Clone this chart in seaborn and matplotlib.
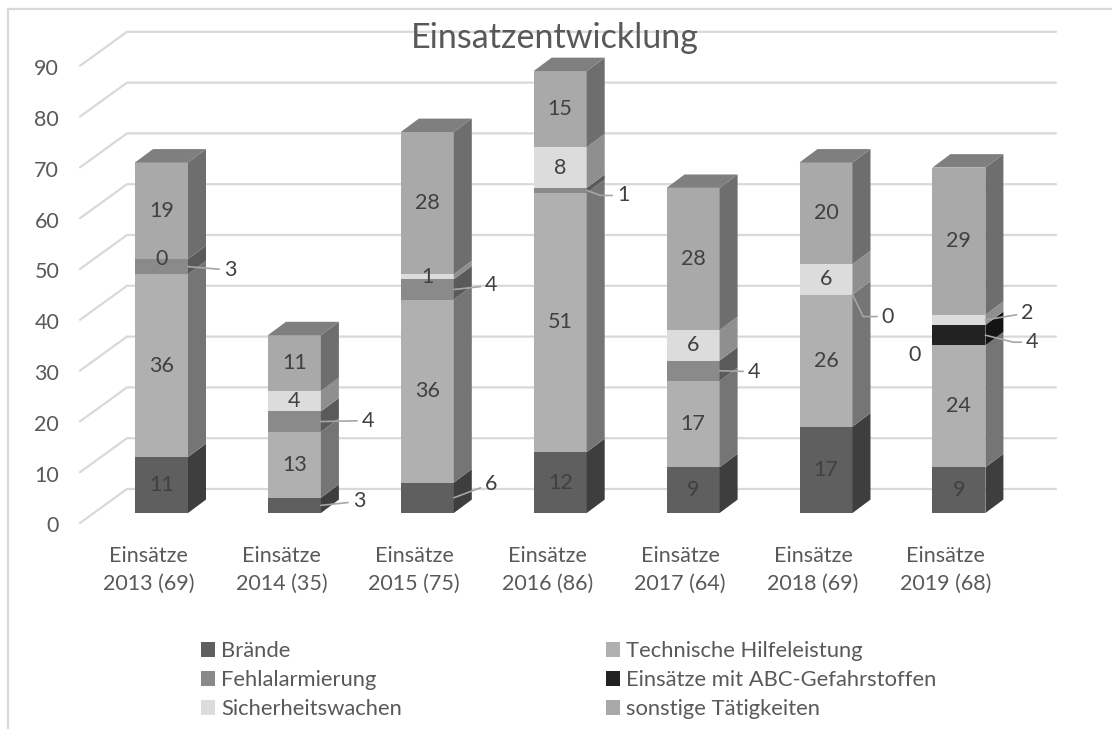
import numpy as np
import pandas as pd
import matplotlib
matplotlib.use("Agg")
import matplotlib.pyplot as plt
from matplotlib.patches import Patch
from matplotlib.lines import Line2D
from matplotlib.transforms import ScaledTranslation
import seaborn as sns

categories = ["Einsätze\n2013 (69)", "Einsätze\n2014 (35)", "Einsätze\n2015 (75)", "Einsätze\n2016 (86)",
              "Einsätze\n2017 (64)", "Einsätze\n2018 (69)", "Einsätze\n2019 (68)"]
nan = float("nan")
braende = [11, 3, 6, 12, 9, 17, 9]
technische = [36, 13, 36, 51, 17, 26, 24]
fehlalarm = [3, 4, 4, 1, 4, 0, 0]
abc = [nan, nan, nan, nan, nan, nan, 4]
sicherheit = [0, 4, 1, 8, 6, 6, 2]
sonstige = [19, 11, 28, 15, 28, 20, 29]
series_names = ["Brände", "Technische Hilfeleistung", "Fehlalarmierung",
                "Einsätze mit ABC-Gefahrstoffen", "Sicherheitswachen", "sonstige Tätigkeiten"]
series = [braende, technische, fehlalarm, abc, sicherheit, sonstige]

front = ["#5f5f5f", "#b0b0b0", "#8a8a8a", "#222222", "#dcdcdc", "#a9a9a9"]
side = ["#3e3e3e", "#757575", "#5a5a5a", "#141414", "#8f8f8f", "#6e6e6e"]
top_col = "#7f7f7f"
TXT = "#595959"
LBL = "#404040"
GRID = "#d9d9d9"

sns.set_theme(style="white")
plt.rcParams["font.family"] = ["Lato", "DejaVu Sans"]

W, H = 1112, 729
fig = plt.figure(figsize=(W / 100, H / 100), dpi=100)
# pixel geometry of the plot box
PX_L, PX_R, PX_T, PX_B = 80, 1056, 31, 513
ax = fig.add_axes([PX_L / W, 1 - PX_B / H, (PX_R - PX_L) / W, (PX_B - PX_T) / H])
XU, YU = 132.9, 5.08   # pixels per unit
X0 = 161.5
xlim = ((PX_L - X0) / XU, (PX_R - X0) / XU)
ylim = (0, (PX_B - PX_T) / YU)

vals = np.nan_to_num(np.array(series, dtype=float))
cum = vals.cumsum(axis=0)
depth_x, depth_y = 18 / XU, 13.4 / YU
bw = 53 / XU
LFS = 15.5

# gridlines on walls
for v in range(0, 100, 10):
    y_f = v - 10 / YU
    y_b = v + 24 / YU
    xb = (127 - X0) / XU
    ax.plot([xlim[0], xb, xlim[1]], [y_f, y_b, y_b], color=GRID, lw=1.6, zorder=0.5,
            clip_on=False, solid_joinstyle="miter")

# stacked bars: cumulative heights drawn tallest first
for k in range(5, -1, -1):
    df = pd.DataFrame({"cat": categories, "h": cum[k]})
    sns.barplot(data=df, x="cat", y="h", color=front[k], saturation=1, width=bw, ax=ax,
                order=categories, zorder=2, linewidth=0)

for i in range(len(categories)):
    xr = i + bw / 2
    lo = 0.0
    for k in range(6):
        hi = cum[k, i]
        if hi > lo:
            ax.fill([xr, xr + depth_x, xr + depth_x, xr],
                    [lo, lo + depth_y, hi + depth_y, hi], color=side[k], lw=0, zorder=2, clip_on=False)
        lo = hi
    t = cum[-1, i]
    xl = i - bw / 2
    ax.fill([xl, xr, xr + depth_x, xl + depth_x], [t, t, t + depth_y, t + depth_y],
            color=top_col, lw=0, zorder=2, clip_on=False)

# data labels: (year, series) -> label offset in px from the right front edge, leader bend angle
callouts = {(0, 2): (42, 3.5, None), (1, 2): (47, -1, None), (1, 0): (38, -4, None), (2, 2): (37.5, -4, None),
            (2, 0): (37.5, -14, None), (3, 2): (36.5, 5, -20), (4, 2): (34.5, 1, None), (5, 2): (35.5, 22, -64),
            (6, 4): (42, -7, None), (6, 3): (47, 7, -14)}
free = {(6, 2): (-44, 10)}
for k, s in enumerate(series):
    for i, v in enumerate(s):
        if np.isnan(v):
            continue
        mid = cum[k, i] - vals[k, i] / 2
        if (i, k) in callouts:
            dx, dy, ang = callouts[(i, k)]
            cs = "arc3" if ang is None else f"angle,angleA=0,angleB={ang},rad=0"
            ax.annotate(f"{v:g}", xy=(i + bw / 2, mid), xytext=(dx * .72, -dy * .72),
                        textcoords="offset points", ha="center", va="center", color=LBL, fontsize=LFS,
                        zorder=5, arrowprops=dict(arrowstyle="-", color="#a6a6a6", lw=1.2,
                                                  shrinkA=1, shrinkB=0, connectionstyle=cs))
        elif (i, k) in free:
            dx, dy = free[(i, k)]
            ax.annotate(f"{v:g}", xy=(i, mid), xytext=(dx * .72, -dy * .72), textcoords="offset points",
                        ha="center", va="center", color=LBL, fontsize=LFS, zorder=5)
        else:
            ax.text(i, mid, f"{v:g}", ha="center", va="center", color=LBL, fontsize=LFS, zorder=5)

ax.set_xlim(*xlim)
ax.set_ylim(*ylim)
ax.set_xlabel("")
ax.set_ylabel("")
ax.set_yticks(range(0, 100, 10))
ax.set_xticks(range(7), categories)
ax.tick_params(axis="both", length=0, colors=TXT, labelsize=LFS)
ax.tick_params(axis="x", pad=24)
ax.tick_params(axis="y", pad=15)
for lab in ax.get_xticklabels():
    lab.set_linespacing(1.45)
    lab.set_transform(lab.get_transform() + ScaledTranslation(-13 / 100, 0, fig.dpi_scale_trans))
for lab in ax.get_yticklabels():
    lab.set_transform(lab.get_transform() + ScaledTranslation(0, -11.5 / 100, fig.dpi_scale_trans))
for sp in ax.spines.values():
    sp.set_visible(False)
ax.patch.set_alpha(0)

order = [0, 2, 4, 1, 3, 5]
handles = [Patch(color=front[k], label=series_names[k], lw=0) for k in order]
fs = 15.8
fpx = fs * 100 / 72
fig.legend(handles=handles, ncol=2, frameon=False, fontsize=fs, labelcolor=TXT,
           loc="upper left", bbox_to_anchor=(201 / W, 1 - 641 / H), borderaxespad=0, borderpad=0,
           handlelength=14 / fpx, handleheight=14 / fpx, handletextpad=6 / fpx,
           columnspacing=204 / fpx, labelspacing=0.42)

fig.suptitle("Einsatzentwicklung", x=555 / W, y=1 - 38 / H, va="center", ha="center", fontsize=24.6, color=TXT)

fig.add_artist(Line2D([8 / W, 8 / W, 1], [0, 1 - 9 / H, 1 - 9 / H], color=GRID, lw=1.6,
                      transform=fig.transFigure))
fig.savefig("out.png", dpi=100)
